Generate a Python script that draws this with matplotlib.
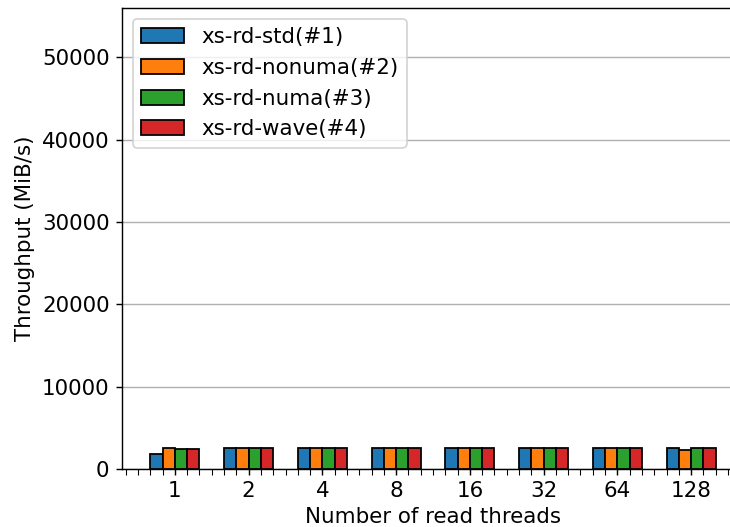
import matplotlib
matplotlib.use("Agg")
import matplotlib.pyplot as plt
import numpy as np
from matplotlib.ticker import MultipleLocator

threads = ["1", "2", "4", "8", "16", "32", "64", "128"]
std = [1800, 2550, 2550, 2550, 2550, 2550, 2550, 2550]
nonuma = [2550, 2550, 2550, 2550, 2550, 2550, 2550, 2350]
numa = [2400, 2550, 2550, 2550, 2550, 2550, 2550, 2550]
wave = [2400, 2550, 2550, 2500, 2550, 2500, 2550, 2550]
labels = ["xs-rd-std(#1)", "xs-rd-nonuma(#2)", "xs-rd-numa(#3)", "xs-rd-wave(#4)"]
colors = ["#1f77b4", "#ff7f0e", "#2ca02c", "#d62728"]

DPI = 128
fig = plt.figure(figsize=(730/DPI, 527/DPI), dpi=DPI)
ax = fig.add_axes([122/730, 1-469/527, (744-122)/730, (469-8)/527])

x = np.arange(len(threads))
w = 1/6
for i, (vals, lab, c) in enumerate(zip([std, nonuma, numa, wave], labels, colors)):
    ax.bar(x + (i - 1.5) * w, vals, width=w, color=c, edgecolor="black", linewidth=1.0, label=lab, zorder=3)

ax.set_xticks(x)
ax.set_xticklabels(threads, fontsize=12)
ax.xaxis.set_minor_locator(MultipleLocator(1/6))
ax.tick_params(axis="x", which="both", length=3.5)
ax.tick_params(axis="y", labelsize=12)
ax.set_xlim(-0.717, 7.717)
ax.set_ylim(0, 56000)
ax.yaxis.grid(True, color="#b0b0b0", linewidth=0.8, zorder=0)
ax.set_axisbelow(True)
ax.set_xlabel("Number of read threads", fontsize=12, labelpad=3)
ax.set_ylabel("Throughput (MiB/s)", fontsize=12)
ax.legend(loc="upper left", fontsize=12)

fig.savefig("out.png", dpi=DPI)
